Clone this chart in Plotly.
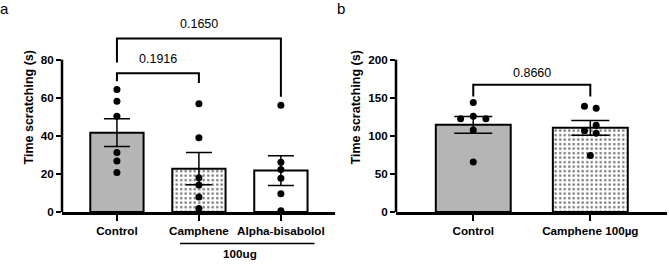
import plotly.graph_objects as go

# ---------------- data ----------------
# Panel a
a_groups = ["Control", "Camphene", "Alpha-bisabolol"]
a_means = [41.7, 22.8, 21.8]
a_sem = [7.3, 8.5, 7.8]
a_control_pts = [64.3, 58.1, 50.3, 31.3, 26.8, 20.8]
a_camphene_pts = [56.9, 39.0, 18.0, 14.2, 7.9, 1.9]
a_alpha_pts = [56.0, 26.2, 22.4, 17.8, 9.7, 0.7]
a_pvalues = ["0.1916", "0.1650"]

# Panel b
b_groups = ["Control", "Camphene 100µg"]
b_means = [114.5, 110.5]
b_sem = [10.9, 9.6]
b_control_pts = [143.9, 122.6, 125.6, 122.6, 107.7, 65.8]
b_control_jit = [0.0, -0.108, 0.0, 0.108, 0.0, 0.0]
b_camphene_pts = [138.8, 136.3, 114.0, 106.8, 103.3, 74.3]
b_camphene_jit = [-0.05, 0.05, 0.05, -0.05, 0.05, 0.0]
b_pvalues = ["0.8660"]

y_title = "Time scratching (s)"
group_label = "100ug"

# ---------------- styling ----------------
FONT = "Arial, Liberation Sans, sans-serif"
BOLD = "<b>%s</b>"
GRAY = "#b5b5b5"
W, H = 669, 267

fig = go.Figure()

def bar(x, y, err, fill, pattern, xa, ya, width, cap):
    kw = dict(
        x=[x], y=[y], width=width, xaxis=xa, yaxis=ya, showlegend=False,
        error_y=dict(type="data", array=[err], color="black", thickness=1.5, width=cap),
        marker=dict(color=fill, line=dict(color="black", width=2)),
    )
    if pattern:
        kw["marker"]["pattern"] = dict(shape=".", fgcolor="black", bgcolor="white",
                                       size=4.5, solidity=0.28, fillmode="overlay")
    fig.add_trace(go.Bar(**kw))

# panel a bars
bar(0, a_means[0], a_sem[0], GRAY, False, "x", "y", 0.65, 13)
bar(1, a_means[1], a_sem[1], "white", True, "x", "y", 0.65, 13)
bar(2, a_means[2], a_sem[2], "white", False, "x", "y", 0.65, 13)

# panel b bars
bar(0, b_means[0], b_sem[0], GRAY, False, "x2", "y2", 0.64, 19)
bar(1, b_means[1], b_sem[1], "white", True, "x2", "y2", 0.64, 19)

def pts(xs, ys, xa, ya):
    fig.add_trace(go.Scatter(x=xs, y=ys, mode="markers", xaxis=xa, yaxis=ya,
                             showlegend=False, cliponaxis=False,
                             marker=dict(color="black", size=7)))

pts([0] * len(a_control_pts), a_control_pts, "x", "y")
pts([1] * len(a_camphene_pts), a_camphene_pts, "x", "y")
pts([2] * len(a_alpha_pts), a_alpha_pts, "x", "y")
pts([0 + j for j in b_control_jit], b_control_pts, "x2", "y2")
pts([1 + j for j in b_camphene_jit], b_camphene_pts, "x2", "y2")

def note(x, y, xref, yref, text, size, bold=False):
    fig.add_annotation(x=x, y=y, xref=xref, yref=yref, text=(BOLD % text) if bold else text,
                       showarrow=False, xanchor="center", yanchor="middle",
                       font=dict(family=FONT, size=size, color="black"))

# ---------------- significance brackets ----------------
def bracket(x0, x1, yh, yl0, yl1, text, ytext, xa, ya):
    fig.add_trace(go.Scatter(
        x=[x0, x0, x1, x1], y=[yl0, yh, yh, yl1], mode="lines", xaxis=xa, yaxis=ya,
        showlegend=False, line=dict(color="black", width=2), hoverinfo="skip"))
    note((x0 + x1) / 2, ytext, xa, ya, text, 12.5)

bracket(0, 1, 72.8, 68.7, 67.7, a_pvalues[0], 80.5, "x", "y")
bracket(0, 2, 91.1, 78.5, 60.5, a_pvalues[1], 98.5, "x", "y")
bracket(0, 1, 167, 151.7, 151.7, b_pvalues[0], 182, "x2", "y2")

# ---------------- axes ----------------
ydom = [1 - 217 / H, 1 - 2.5 / H]
tickfont = dict(family=FONT, size=11.7, color="black")
common_x = dict(showgrid=False, zeroline=False, showline=True, linecolor="black", linewidth=2.5,
                ticks="outside", ticklen=6, tickwidth=2, tickcolor="black", tickfont=tickfont,
                fixedrange=True)
common_y = dict(showgrid=False, zeroline=False, showline=False, ticks="outside", ticklen=5,
                tickwidth=2, tickcolor="black", tickfont=tickfont,
                title=dict(text=BOLD % y_title, font=dict(family=FONT, size=12.5, color="black"),
                           standoff=4))

fig.update_layout(
    width=W, height=H, margin=dict(l=0, r=0, t=0, b=0),
    plot_bgcolor="white", paper_bgcolor="white", barmode="overlay",
    xaxis=dict(domain=[62 / W, 335 / W], range=[-0.67, 2.66], anchor="y",
               tickvals=[0, 1, 2], ticktext=[BOLD % g for g in a_groups], **common_x),
    yaxis=dict(domain=ydom, range=[0, 110], anchor="x",
               tickvals=[0, 20, 40, 60, 80], ticktext=[BOLD % v for v in [0, 20, 40, 60, 80]],
               **common_y),
    xaxis2=dict(domain=[396 / W, 667 / W], range=[-0.66, 1.655], anchor="y2",
                tickvals=[0, 1], ticktext=[BOLD % g for g in b_groups], **common_x),
    yaxis2=dict(domain=ydom, range=[0, 275], anchor="x2",
                tickvals=[0, 50, 100, 150, 200], ticktext=[BOLD % v for v in [0, 50, 100, 150, 200]],
                **common_y),
)

# y-axis lines drawn only over the labelled range
fig.add_shape(type="line", xref="x domain", yref="y", x0=0, x1=0, y0=0, y1=80,
              line=dict(color="black", width=2.5))
fig.add_shape(type="line", xref="x2 domain", yref="y2", x0=0, x1=0, y0=0, y1=200,
              line=dict(color="black", width=2.5))

# group underline "100ug"
fig.add_shape(type="line", xref="x", yref="paper", x0=0.77, x1=2.41,
              y0=1 - 249 / H, y1=1 - 249 / H, line=dict(color="black", width=1.5))
note(1.5, 1 - 259 / H, "x", "paper", group_label, 11.7, bold=True)

# panel letters
note(4 / W, 1 - 9 / H, "paper", "paper", "a", 15)
note(341 / W, 1 - 9 / H, "paper", "paper", "b", 15)

post = "document.body.style.margin='0';document.body.style.overflow='hidden';"
fig.write_html("out.html", config=dict(displayModeBar=False), post_script=post)
